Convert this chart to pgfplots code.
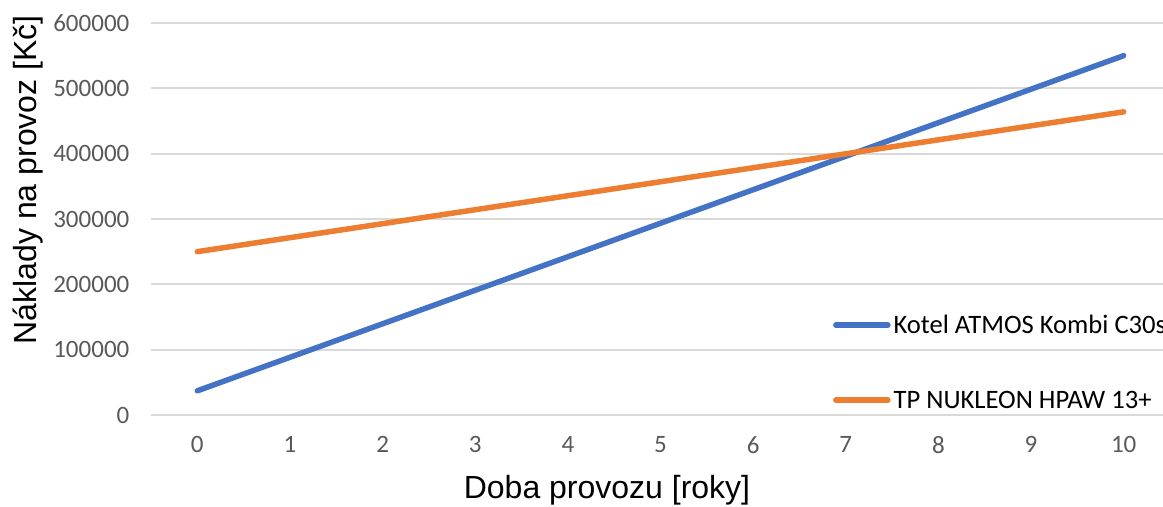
\documentclass[border=0pt]{standalone}
\usepackage{pgfplots}
\pgfplotsset{compat=1.18}
\usepackage{fontspec}
\setmainfont{Carlito}
\newfontfamily\arialf{Liberation Sans}
\definecolor{cblue}{HTML}{4472C4}
\definecolor{corange}{HTML}{ED7D31}
\definecolor{cgrid}{HTML}{D9D9D9}
\definecolor{ctick}{HTML}{595959}
\begin{document}
\begin{tikzpicture}
\begin{axis}[
  at={(75.5pt,46pt)}, anchor=south west,
  scale only axis,
  width=509.5pt, height=196pt,
  xmin=-0.5, xmax=10.5,
  ymin=0, ymax=600000,
  xtick={0,1,2,3,4,5,6,7,8,9,10},
  ytick={0,100000,200000,300000,400000,500000,600000},
  scaled y ticks=false,
  /pgf/number format/assume math mode=true,
  yticklabel={\pgfmathprintnumber[fixed,1000 sep={}]{\tick}},
  ymajorgrids,
  grid style={cgrid, line width=1pt},
  axis line style={draw=none},
  major tick length=0pt,
  tick label style={font=\fontsize{12.5pt}{14pt}\selectfont, text=ctick},
  yticklabel style={xshift=-7.3pt},
  xticklabel style={yshift=-7.3pt},
  xlabel={Doba provozu [roky]},
  ylabel={Náklady na provoz [Kč]},
  label style={font=\arialf\fontsize{16pt}{18pt}\selectfont, text=black},
  xlabel style={at={(axis description cs:0.4475,-0.1913)}, anchor=center},
  ylabel style={at={(axis description cs:-0.1207,0.6)}, anchor=center},
  legend style={draw=none, fill=none, inner sep=0pt,
    at={(axis description cs:0.669,0.1263)}, anchor=west,
    font=\fontsize{13.3pt}{15pt}\selectfont, text=black,
    row sep=25.5pt, column sep=1.5pt,
    nodes={inner sep=0pt, text height=9pt, text depth=3pt}},
  legend cell align=left,
  legend image code/.code={\draw[#1, line cap=round] (0pt,1.4pt) -- (26pt,1.4pt);},
]
\addplot[cblue, line width=2.75pt, line cap=round, line join=round] coordinates {
(0,37000) (1,88300) (2,139600) (3,190900) (4,242200) (5,293500)
(6,344800) (7,396100) (8,447400) (9,498700) (10,550000)};
\addlegendentry{Kotel ATMOS Kombi C30s}
\addplot[corange, line width=2.75pt, line cap=round, line join=round] coordinates {
(0,250000) (1,271400) (2,292800) (3,314200) (4,335600) (5,357000)
(6,378400) (7,399800) (8,421200) (9,442600) (10,464000)};
\addlegendentry{TP NUKLEON HPAW 13+}
\end{axis}
\pgfresetboundingbox
\useasboundingbox (0,0) rectangle (581.5pt,253.5pt);
\end{tikzpicture}
\end{document}
